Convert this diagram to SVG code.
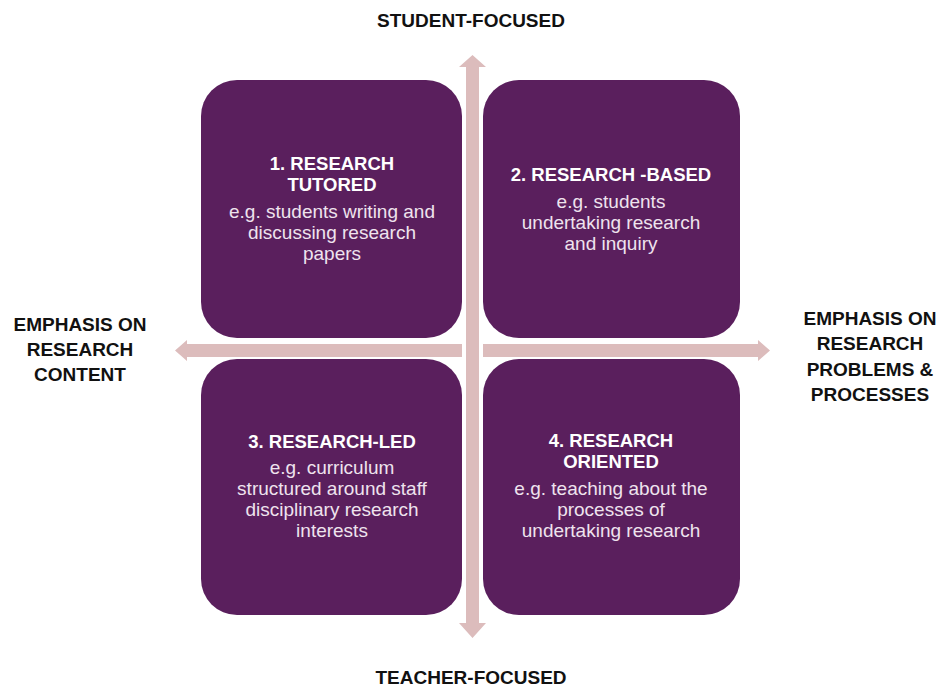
<svg xmlns="http://www.w3.org/2000/svg" width="940" height="687" viewBox="0 0 940 687">
<style>
.box{fill:#5a1f5d}
.arr{fill:#dcbcbc}
.t{font-family:"Liberation Sans",Arial,sans-serif;font-weight:bold;font-size:18.5px;fill:#ffffff;text-anchor:middle}
.b{font-family:"Liberation Sans",Arial,sans-serif;font-size:19px;fill:#efe3ee;text-anchor:middle}
.l{font-family:"Liberation Sans",Arial,sans-serif;font-weight:bold;font-size:19px;fill:#111111;text-anchor:middle}
</style>
<rect width="940" height="687" fill="#ffffff"/>
<g id="connectors">
<polygon class="arr" points="466,623 466,67 459,67 472.5,55 486,67 479,67 479,623 486,623 472.5,638 459,623"/>
<polygon class="arr" points="462,344 187,344 187,340 175,350.5 187,361 187,357 462,357"/>
<polygon class="arr" points="483,344 758,344 758,340 770,350.5 758,361 758,357 483,357"/>
</g>
<g id="node1">
<rect class="box" x="201" y="80" width="261" height="258" rx="36"/>
<text class="t" x="332" y="170">1. RESEARCH</text>
<text class="t" x="332" y="191">TUTORED</text>
<text class="b" x="332" y="218">e.g. students writing and</text>
<text class="b" x="332" y="239">discussing research</text>
<text class="b" x="332" y="260">papers</text>
</g>
<g id="node2">
<rect class="box" x="483" y="80" width="257" height="258" rx="36"/>
<text class="t" x="611" y="181">2. RESEARCH -BASED</text>
<text class="b" x="611" y="208">e.g. students</text>
<text class="b" x="611" y="229">undertaking research</text>
<text class="b" x="611" y="250">and inquiry</text>
</g>
<g id="node3">
<rect class="box" x="201" y="359" width="261" height="256" rx="36"/>
<text class="t" x="332" y="448">3. RESEARCH-LED</text>
<text class="b" x="332" y="474">e.g. curriculum</text>
<text class="b" x="332" y="495">structured around staff</text>
<text class="b" x="332" y="516">disciplinary research</text>
<text class="b" x="332" y="537">interests</text>
</g>
<g id="node4">
<rect class="box" x="483" y="359" width="257" height="256" rx="36"/>
<text class="t" x="611" y="447">4. RESEARCH</text>
<text class="t" x="611" y="468">ORIENTED</text>
<text class="b" x="611" y="495">e.g. teaching about the</text>
<text class="b" x="611" y="516">processes of</text>
<text class="b" x="611" y="537">undertaking research</text>
</g>
<g id="labels">
<text class="l" x="471" y="27">STUDENT-FOCUSED</text>
<text class="l" x="471" y="684">TEACHER-FOCUSED</text>
<text class="l" x="80" y="331">EMPHASIS ON</text>
<text class="l" x="80" y="356">RESEARCH</text>
<text class="l" x="80" y="381">CONTENT</text>
<text class="l" x="870" y="325">EMPHASIS ON</text>
<text class="l" x="870" y="350">RESEARCH</text>
<text class="l" x="870" y="376">PROBLEMS &amp;</text>
<text class="l" x="870" y="401">PROCESSES</text>
</g>
</svg>
